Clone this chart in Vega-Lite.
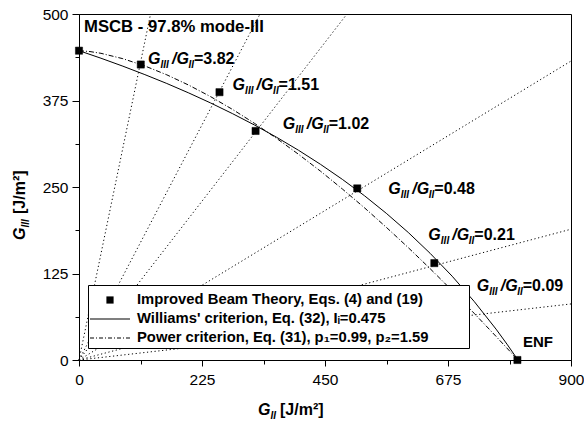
{
  "$schema": "https://vega.github.io/schema/vega-lite/v6.json",
  "width": 492,
  "height": 346,
  "autosize": {"type": "none"},
  "padding": {"left": 79, "top": 14, "right": 13, "bottom": 69},
  "background": "white",
  "config": {
    "view": {"stroke": "black", "strokeWidth": 1},
    "font": "Liberation Sans",
    "axis": {
      "domainColor": "black",
      "tickColor": "black",
      "labelColor": "black",
      "labelFont": "Liberation Sans",
      "labelFontSize": 15.5,
      "grid": false,
      "title": null
    }
  },
  "datasets": {
    "one": [{}],
    "rays": [
      {"ratio": "3.82", "gii": 0, "giii": 0}, {"ratio": "3.82", "gii": 130.9, "giii": 500},
      {"ratio": "1.51", "gii": 0, "giii": 0}, {"ratio": "1.51", "gii": 331.1, "giii": 500},
      {"ratio": "1.02", "gii": 0, "giii": 0}, {"ratio": "1.02", "gii": 490.2, "giii": 500},
      {"ratio": "0.48", "gii": 0, "giii": 0}, {"ratio": "0.48", "gii": 900, "giii": 432},
      {"ratio": "0.21", "gii": 0, "giii": 0}, {"ratio": "0.21", "gii": 900, "giii": 189},
      {"ratio": "0.09", "gii": 0, "giii": 0}, {"ratio": "0.09", "gii": 900, "giii": 81}
    ],
    "williams": [
      {"gii": 0, "giii": 447}, {"gii": 40.2, "giii": 436.1}, {"gii": 80.3, "giii": 424.6},
      {"gii": 120.5, "giii": 412.4}, {"gii": 160.6, "giii": 399.6}, {"gii": 200.8, "giii": 385.9},
      {"gii": 240.9, "giii": 371.4}, {"gii": 281.1, "giii": 355.9}, {"gii": 321.2, "giii": 339.5},
      {"gii": 361.4, "giii": 321.9}, {"gii": 401.5, "giii": 303.1}, {"gii": 441.7, "giii": 282.8},
      {"gii": 481.8, "giii": 261.0}, {"gii": 522.0, "giii": 237.5}, {"gii": 562.1, "giii": 212.0},
      {"gii": 602.3, "giii": 184.3}, {"gii": 642.4, "giii": 154.1}, {"gii": 682.6, "giii": 121.1},
      {"gii": 722.7, "giii": 84.8}, {"gii": 762.9, "giii": 44.6}, {"gii": 782.9, "giii": 22.9},
      {"gii": 803, "giii": 0}
    ],
    "power": [
      {"gii": 0, "giii": 447}, {"gii": 20.1, "giii": 445.7}, {"gii": 40.2, "giii": 443.2}, {"gii": 80.3, "giii": 435.4},
      {"gii": 120.5, "giii": 424.9}, {"gii": 160.6, "giii": 412.1}, {"gii": 200.8, "giii": 397.2},
      {"gii": 240.9, "giii": 380.5}, {"gii": 281.1, "giii": 362.0}, {"gii": 321.2, "giii": 341.9},
      {"gii": 361.4, "giii": 320.3}, {"gii": 401.5, "giii": 297.3}, {"gii": 441.7, "giii": 272.9},
      {"gii": 481.8, "giii": 247.1}, {"gii": 522.0, "giii": 220.1}, {"gii": 562.1, "giii": 191.8},
      {"gii": 602.3, "giii": 162.4}, {"gii": 642.4, "giii": 131.9}, {"gii": 682.6, "giii": 100.3},
      {"gii": 722.7, "giii": 67.6}, {"gii": 762.9, "giii": 34.1}, {"gii": 803, "giii": 0}
    ],
    "ibt": [
      {"series": "Improved Beam Theory, Eqs. (4) and (19)", "gii": 0, "giii": 447},
      {"series": "Improved Beam Theory, Eqs. (4) and (19)", "gii": 113, "giii": 427},
      {"series": "Improved Beam Theory, Eqs. (4) and (19)", "gii": 257, "giii": 387},
      {"series": "Improved Beam Theory, Eqs. (4) and (19)", "gii": 323, "giii": 331},
      {"series": "Improved Beam Theory, Eqs. (4) and (19)", "gii": 509, "giii": 248},
      {"series": "Improved Beam Theory, Eqs. (4) and (19)", "gii": 650, "giii": 140},
      {"series": "Improved Beam Theory, Eqs. (4) and (19)", "gii": 802, "giii": 0}
    ],
    "labels": [
      {"r": "=3.82", "lx": 126.2, "ly": 428},
      {"r": "=1.51", "lx": 281, "ly": 389.5},
      {"r": "=1.02", "lx": 372.6, "ly": 334},
      {"r": "=0.48", "lx": 565.8, "ly": 240},
      {"r": "=0.21", "lx": 639, "ly": 172.7},
      {"r": "=0.09", "lx": 727.5, "ly": 99}
    ]
  },
  "layer": [
    {
      "data": {"name": "rays"},
      "mark": {"type": "line", "color": "black", "strokeWidth": 1, "strokeDash": [1.2, 2.6]},
      "encoding": {
        "x": {"field": "gii", "type": "quantitative", "scale": {"domain": [0, 900], "nice": false},
          "axis": {"values": [0, 112.5, 225, 337.5, 450, 562.5, 675, 787.5, 900],
            "labelExpr": "datum.value % 225 === 0 ? datum.label : ''",
            "tickSize": {"condition": {"test": "datum.value % 225 === 0", "value": 6}, "value": 4},
            "labelPadding": 6, "labelFlush": false}},
        "y": {"field": "giii", "type": "quantitative", "scale": {"domain": [0, 500], "nice": false},
          "axis": {"values": [0, 62.5, 125, 187.5, 250, 312.5, 375, 437.5, 500],
            "labelExpr": "datum.value % 125 === 0 ? datum.label : ''",
            "tickSize": {"condition": {"test": "datum.value % 125 === 0", "value": 7}, "value": 4},
            "labelPadding": 4, "labelFlush": false}},
        "detail": {"field": "ratio"}
      }
    },
    {
      "data": {"name": "williams"},
      "mark": {"type": "line", "color": "black", "strokeWidth": 1},
      "encoding": {
        "x": {"field": "gii", "type": "quantitative"},
        "y": {"field": "giii", "type": "quantitative"}
      }
    },
    {
      "data": {"name": "power"},
      "mark": {"type": "line", "color": "black", "strokeWidth": 1, "strokeDash": [5, 2, 1, 2]},
      "encoding": {
        "x": {"field": "gii", "type": "quantitative"},
        "y": {"field": "giii", "type": "quantitative"}
      }
    },
    {
      "data": {"name": "ibt"},
      "mark": {"type": "point", "fill": "black", "stroke": "black", "strokeWidth": 0.5, "opacity": 1, "fillOpacity": 1, "strokeOpacity": 1, "size": 576},
      "encoding": {
        "x": {"field": "gii", "type": "quantitative"},
        "y": {"field": "giii", "type": "quantitative"},
        "shape": {
          "field": "series", "type": "nominal",
          "scale": {
            "domain": ["Improved Beam Theory, Eqs. (4) and (19)", "Williams' criterion, Eq. (32), Iᵢ=0.475", "Power criterion, Eq. (31), p₁=0.99, p₂=1.59"],
            "range": [
              "M-0.3,-0.3H0.3V0.3H-0.3Z",
              "M-1.667,-0.045H1.667V0.045H-1.667Z",
              "M-1.667,-0.045H-1.333V0.045H-1.667ZM-1.167,-0.045H-1.083V0.045H-1.167ZM-0.917,-0.045H-0.583V0.045H-0.917ZM-0.417,-0.045H-0.333V0.045H-0.417ZM-0.167,-0.045H0.167V0.045H-0.167ZM0.333,-0.045H0.417V0.045H0.333ZM0.583,-0.045H0.917V0.045H0.583ZM1.083,-0.045H1.167V0.045H1.083ZM1.333,-0.045H1.667V0.045H1.333Z"
            ]
          },
          "legend": {
            "title": null,
            "orient": "none",
            "legendX": 9,
            "legendY": 271,
            "padding": 3,
            "fillColor": "white",
            "strokeColor": "black",
            "symbolSize": 576,
            "symbolOffset": 7,
            "symbolFillColor": "black",
            "symbolStrokeColor": "black",
            "symbolStrokeWidth": 0,
            "symbolOpacity": 1,
            "rowPadding": -2.5,
            "labelOffset": 15,
            "labelLimit": 0,
            "labelExpr": "datum.label + '\u00a0\u00a0\u00a0\u00a0\u00a0\u00a0\u00a0\u00a0\u00a0\u200b'",
            "labelFont": "Liberation Sans",
            "labelFontSize": 14.8,
            "labelFontWeight": "bold",
            "labelColor": "black",
            "encode": {
              "symbols": {"update": {"fill": {"value": "black"}, "opacity": {"value": 1}}}
            }
          }
        }
      }
    },
    {
      "data": {"name": "labels"},
      "mark": {"type": "text", "text": "G", "align": "left", "baseline": "alphabetic", "fontSize": 16, "fontWeight": "bold", "fontStyle": "italic", "color": "black"},
      "encoding": {"x": {"field": "lx", "type": "quantitative"}, "y": {"field": "ly", "type": "quantitative"}}
    },
    {
      "data": {"name": "labels"},
      "mark": {"type": "text", "text": "III", "align": "left", "baseline": "alphabetic", "dx": 12.5, "dy": 4, "fontSize": 10, "fontWeight": "bold", "fontStyle": "italic", "color": "black"},
      "encoding": {"x": {"field": "lx", "type": "quantitative"}, "y": {"field": "ly", "type": "quantitative"}}
    },
    {
      "data": {"name": "labels"},
      "mark": {"type": "text", "text": "/G", "align": "left", "baseline": "alphabetic", "dx": 24, "fontSize": 16, "fontWeight": "bold", "fontStyle": "italic", "color": "black"},
      "encoding": {"x": {"field": "lx", "type": "quantitative"}, "y": {"field": "ly", "type": "quantitative"}}
    },
    {
      "data": {"name": "labels"},
      "mark": {"type": "text", "text": "II", "align": "left", "baseline": "alphabetic", "dx": 40.5, "dy": 4, "fontSize": 10, "fontWeight": "bold", "fontStyle": "italic", "color": "black"},
      "encoding": {"x": {"field": "lx", "type": "quantitative"}, "y": {"field": "ly", "type": "quantitative"}}
    },
    {
      "data": {"name": "labels"},
      "mark": {"type": "text", "align": "left", "baseline": "alphabetic", "dx": 46, "fontSize": 16, "fontWeight": "bold", "color": "black"},
      "encoding": {"x": {"field": "lx", "type": "quantitative"}, "y": {"field": "ly", "type": "quantitative"}, "text": {"field": "r"}}
    },
    {
      "data": {"name": "one"},
      "mark": {"type": "text", "text": "MSCB - 97.8% mode-III", "align": "left", "baseline": "alphabetic", "fontSize": 16.7, "fontWeight": "bold", "color": "black"},
      "encoding": {"x": {"datum": 9.1, "type": "quantitative"}, "y": {"datum": 474.3, "type": "quantitative"}}
    },
    {
      "data": {"name": "one"},
      "mark": {"type": "text", "text": "ENF", "align": "left", "baseline": "alphabetic", "fontSize": 15, "fontWeight": "bold", "color": "black"},
      "encoding": {"x": {"datum": 812, "type": "quantitative"}, "y": {"datum": 19.2, "type": "quantitative"}}
    },
    {
      "data": {"name": "one"},
      "mark": {"type": "text", "text": "G", "align": "left", "baseline": "alphabetic", "fontSize": 16, "fontWeight": "bold", "fontStyle": "italic", "color": "black"},
      "encoding": {"x": {"datum": 327.4, "type": "quantitative"}, "y": {"datum": -79.5, "type": "quantitative"}}
    },
    {
      "data": {"name": "one"},
      "mark": {"type": "text", "text": "II", "align": "left", "baseline": "alphabetic", "dx": 12.5, "dy": 4, "fontSize": 10, "fontWeight": "bold", "fontStyle": "italic", "color": "black"},
      "encoding": {"x": {"datum": 327.4, "type": "quantitative"}, "y": {"datum": -79.5, "type": "quantitative"}}
    },
    {
      "data": {"name": "one"},
      "mark": {"type": "text", "text": "[J/m²]", "align": "left", "baseline": "alphabetic", "dx": 22, "fontSize": 16, "fontWeight": "bold", "color": "black"},
      "encoding": {"x": {"datum": 327.4, "type": "quantitative"}, "y": {"datum": -79.5, "type": "quantitative"}}
    },
    {
      "data": {"name": "one"},
      "mark": {"type": "text", "text": "G", "align": "left", "baseline": "alphabetic", "angle": 270, "fontSize": 16, "fontWeight": "bold", "fontStyle": "italic", "color": "black"},
      "encoding": {"x": {"datum": -97.9, "type": "quantitative"}, "y": {"datum": 173.4, "type": "quantitative"}}
    },
    {
      "data": {"name": "one"},
      "mark": {"type": "text", "text": "III", "align": "left", "baseline": "alphabetic", "angle": 270, "dx": 12.5, "dy": 4, "fontSize": 10, "fontWeight": "bold", "fontStyle": "italic", "color": "black"},
      "encoding": {"x": {"datum": -97.9, "type": "quantitative"}, "y": {"datum": 173.4, "type": "quantitative"}}
    },
    {
      "data": {"name": "one"},
      "mark": {"type": "text", "text": "[J/m²]", "align": "left", "baseline": "alphabetic", "angle": 270, "dx": 26, "fontSize": 16, "fontWeight": "bold", "color": "black"},
      "encoding": {"x": {"datum": -97.9, "type": "quantitative"}, "y": {"datum": 173.4, "type": "quantitative"}}
    }
  ]
}
